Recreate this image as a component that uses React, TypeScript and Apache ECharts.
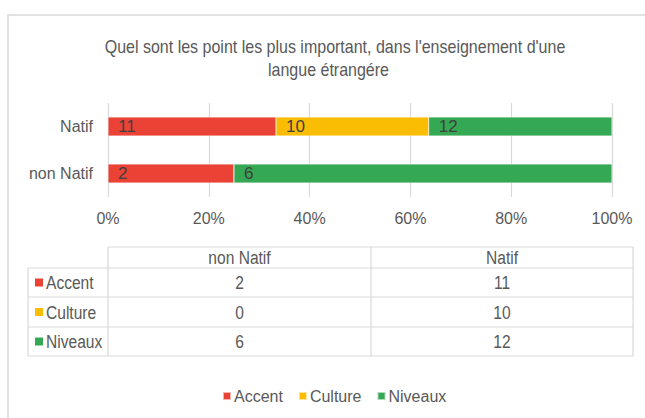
import React, { useEffect, useRef } from "react";
import * as echarts from "echarts";

const titleLines = ["Quel sont les point les plus important, dans l'enseignement d'une", "langue étrangére"];
const categories = ["non Natif", "Natif"];
const seriesNames = ["Accent", "Culture", "Niveaux"];
const accentValues = [2, 11];
const cultureValues = [0, 10];
const niveauxValues = [6, 12];
const colors = ["#EA4335", "#FBBC04", "#34A853"];
const xTicks = [0, 20, 40, 60, 80, 100];

const FONT = "'Liberation Sans', Arial, sans-serif";
const GRID = "#d9d9d9";
const TXT = "#595959";
const NARROW = 0.82;

export default function App() {
  const ref = useRef<HTMLDivElement>(null);
  useEffect(() => {
    if (!ref.current) return;
    const chart = echarts.init(ref.current, undefined, { renderer: "svg" });
    const raw = [accentValues, cultureValues, niveauxValues];
    const totals = categories.map((_, i) => raw.reduce((s, arr) => s + arr[i], 0));

    const series = seriesNames.map((name, si) => ({
      name,
      type: "bar",
      stack: "total",
      barWidth: 19,
      itemStyle: { color: colors[si], borderColor: "rgba(255,255,255,0.6)", borderWidth: 0.5 },
      label: {
        show: true,
        position: "insideLeft",
        distance: 10,
        fontFamily: FONT,
        fontSize: 17,
        color: "#404040",
        formatter: (p: any) => (raw[si][p.dataIndex] === 0 ? "" : String(raw[si][p.dataIndex])),
      },
      data: raw[si].map((v, i) => (v / totals[i]) * 100),
    }));

    // Data table
    const tableX0 = 28, tableX1 = 108, tableX2 = 371, tableX3 = 633;
    const rowYs = [247, 268, 297, 327, 356];
    const g: any[] = [];
    const line = (x1: number, y1: number, x2: number, y2: number) =>
      g.push({ type: "line", shape: { x1, y1, x2, y2 }, style: { stroke: GRID, lineWidth: 1.2 }, silent: true });
    line(tableX1, rowYs[0], tableX3, rowYs[0]);
    for (let r = 1; r < rowYs.length; r++) line(tableX0, rowYs[r], tableX3, rowYs[r]);
    line(tableX0, rowYs[1], tableX0, rowYs[4]);
    line(tableX1, rowYs[0], tableX1, rowYs[4]);
    line(tableX2, rowYs[0], tableX2, rowYs[4]);
    line(tableX3, rowYs[0], tableX3, rowYs[4]);
    const colCenters = [(tableX1 + tableX2) / 2, (tableX2 + tableX3) / 2];
    categories.forEach((c, ci) => {
      g.push({
        type: "text",
        x: colCenters[ci],
        y: (rowYs[0] + rowYs[1]) / 2,
        scaleX: NARROW,
        style: { text: c, fontFamily: FONT, fontSize: 19, fill: TXT, align: "center", verticalAlign: "middle" },
      });
    });
    seriesNames.forEach((name, si) => {
      const cy = (rowYs[si + 1] + rowYs[si + 2]) / 2;
      g.push({ type: "rect", shape: { x: 35, y: cy - 4, width: 8, height: 8 }, style: { fill: colors[si] } });
      g.push({
        type: "text",
        x: 46,
        y: cy,
        scaleX: NARROW,
        style: { text: name, fontFamily: FONT, fontSize: 19, fill: TXT, align: "left", verticalAlign: "middle" },
      });
      categories.forEach((_, ci) => {
        g.push({
          type: "text",
          x: colCenters[ci],
          y: cy,
          scaleX: NARROW,
          style: { text: String(raw[si][ci]), fontFamily: FONT, fontSize: 19, fill: TXT, align: "center", verticalAlign: "middle" },
        });
      });
    });

    const titleCenters = [335, 328.5];
    const titleYs = [47, 70];
    const titleEls = titleLines.map((t, i) => ({
      type: "text",
      x: titleCenters[i],
      y: titleYs[i],
      scaleX: 0.89,
      style: { text: t, fontFamily: FONT, fontSize: 18, fill: TXT, align: "center", verticalAlign: "middle" },
    }));

    chart.setOption({
      animation: false,
      backgroundColor: "#ffffff",
      graphic: [
        {
          type: "rect",
          shape: { x: 8, y: 15, width: 680, height: 440 },
          style: { fill: "none", stroke: GRID, lineWidth: 1.5 },
          silent: true,
        },
        ...titleEls,
        ...g,
      ],
      legend: {
        data: seriesNames,
        left: 222,
        top: 388,
        padding: 0,
        icon: "rect",
        itemWidth: 8,
        itemHeight: 8,
        itemGap: 15,
        textStyle: { fontFamily: FONT, fontSize: 16, color: TXT, padding: [0, 0, 0, -2] },
      },
      grid: { left: 108, top: 103, width: 504, height: 94, containLabel: false },
      xAxis: {
        type: "value",
        min: xTicks[0],
        max: xTicks[xTicks.length - 1],
        interval: 20,
        axisLine: { show: false },
        axisTick: { show: false },
        splitLine: { show: true, lineStyle: { color: GRID, width: 1.2 } },
        axisLabel: { formatter: "{value}%", fontFamily: FONT, fontSize: 16, color: TXT, margin: 13 },
      },
      yAxis: {
        type: "category",
        data: categories,
        axisLine: { show: false },
        axisTick: { show: false },
        axisLabel: { fontFamily: FONT, fontSize: 16, color: TXT, margin: 15 },
      },
      series,
    });
    return () => chart.dispose();
  }, []);
  return (
    <div
      ref={ref}
      style={{ position: "fixed", left: 0, top: 0, width: 645, height: 418, background: "#fff" }}
    />
  );
}
